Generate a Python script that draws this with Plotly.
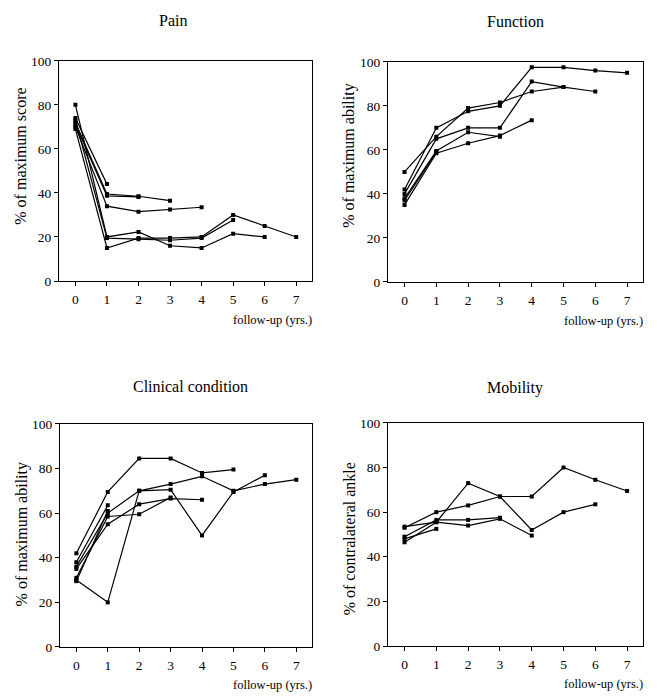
import plotly.graph_objects as go

W, H = 657, 700
years = [0, 1, 2, 3, 4, 5, 6, 7]
y_ticks = [0, 20, 40, 60, 80, 100]

# Pain (% of maximum score)
pain_a = [74, 44]
pain_b = [72, 39.5, 38.5, 36.5]
pain_b2 = [71, 38.7, 38.2]
pain_c = [70, 34, 31.5, 32.5, 33.5]
pain_d = [80, 20, 22.3, 16, 15, 21.5, 20]
pain_e = [69, 15, 19.5, 19.5, 20, 30, 25, 20]
pain_f = [73, 19.5, 19, 18.5, 19.5, 27.7]

# Function (% of maximum ability)
func_a = [50, 66, 79, 81.5, 86.5, 88.5, 86.5]
func_b = [42, 70, 77.5, 80, 97.5, 97.5, 96, 95]
func_c = [40, 65, 70, 70, 91, 88.5]
func_d = [38, 59.5, 68, 66]
func_e = [35, 58.5, 63, 66.5, 73.5]
func_f = [37, 59]

# Clinical condition (% of maximum ability)
clin_a = [42, 69.5, 84.5, 84.5, 78, 79.5]
clin_b = [30, 20, 70, 70.5, 50, 69.5, 77]
clin_c = [36, 60, 70, 73, 76.5, 70, 73, 75]
clin_d = [35, 55, 64, 66.5, 66]
clin_e = [31, 58.5, 59.5, 67]
clin_f = [38, 63.5]
clin_g = [29.5, 61]

# Mobility (% of contralateral ankle)
mob_a = [53, 60, 63, 67, 67, 80, 74.5, 69.5]
mob_b = [46.5, 55.5, 73, 67, 52, 60, 63.5]
mob_c = [53.5, 55.5, 54, 57, 49.5]
mob_d = [49, 56.5, 56.5, 57.5]
mob_e = [48, 52.5]

panels = [
    ("Pain", "% of maximum score", [pain_a, pain_b, pain_b2, pain_c, pain_d, pain_e, pain_f]),
    ("Function", "% of maximum ability", [func_a, func_b, func_c, func_d, func_e, func_f]),
    ("Clinical condition", "% of maximum ability", [clin_a, clin_b, clin_c, clin_d, clin_e, clin_f, clin_g]),
    ("Mobility", "% of contralateral ankle", [mob_a, mob_b, mob_c, mob_d, mob_e]),
]

# pixel boxes (left, top, right, bottom)
boxes = [(59, 55, 312, 280), (388, 56, 643, 281), (60, 426, 312, 654), (388, 425, 643, 653)]
title_pos = [(173, 14), (515, 15), (190, 388), (515, 389)]
ytitle_pos = [(21, 153), (349, 152), (22, 539), (349, 544)]

FONT = "Liberation Serif"
fig = go.Figure()
layout = dict(
    width=W, height=H, margin=dict(l=0, r=0, t=0, b=0),
    paper_bgcolor="white", plot_bgcolor="white", showlegend=False,
    font=dict(family=FONT, color="black", size=13.5),
)
annotations = []
for i, (title, ytitle, series) in enumerate(panels):
    n = "" if i == 0 else str(i + 1)
    xa, ya = "x" + n, "y" + n
    for s in series:
        fig.add_trace(go.Scatter(
            x=years[:len(s)], y=s, xaxis=xa, yaxis=ya, mode="lines+markers",
            line=dict(color="black", width=1.2),
            marker=dict(symbol="square", size=4, color="black"),
            hoverinfo="skip",
        ))
    l, t, r, b = boxes[i]
    layout["xaxis" + n] = dict(
        domain=[l / W, r / W], anchor=ya, range=[-0.52, 7.5],
        tickvals=years, ticks="outside", ticklen=4, tickcolor="black",
        showline=True, linecolor="black", linewidth=1, mirror=True,
        showgrid=False, zeroline=False, ticklabelstandoff=2,
        tickfont=dict(family=FONT, size=13.5, color="black"),
    )
    layout["yaxis" + n] = dict(
        domain=[1 - b / H, 1 - t / H], anchor=xa, range=[0, 100],
        tickvals=y_ticks, ticks="outside", ticklen=4, tickcolor="black",
        showline=True, linecolor="black", linewidth=1, mirror=True,
        showgrid=False, zeroline=False,
        tickfont=dict(family=FONT, size=13.5, color="black"),
    )
    tx, ty = title_pos[i]
    annotations.append(dict(text=title, x=tx / W, y=1 - ty / H, xref="paper", yref="paper",
                            showarrow=False, xanchor="center", yanchor="middle",
                            font=dict(family=FONT, size=16, color="black")))
    yx, yy = ytitle_pos[i]
    annotations.append(dict(text=ytitle, x=yx / W, y=1 - yy / H, xref="paper", yref="paper",
                            showarrow=False, xanchor="center", yanchor="middle", textangle=-90,
                            font=dict(family=FONT, size=16, color="black")))
    fy = b + 40 if i < 2 else b + 39
    annotations.append(dict(text="follow-up (yrs.)", x=(r + 2) / W, y=1 - fy / H,
                            xref="paper", yref="paper", showarrow=False,
                            xanchor="right", yanchor="middle",
                            font=dict(family=FONT, size=12.5, color="black")))
layout["annotations"] = annotations
fig.update_layout(**layout)
fig.write_html("out.html", config={"displayModeBar": False},
               post_script="document.body.style.margin='0';document.body.style.overflow='hidden';")
